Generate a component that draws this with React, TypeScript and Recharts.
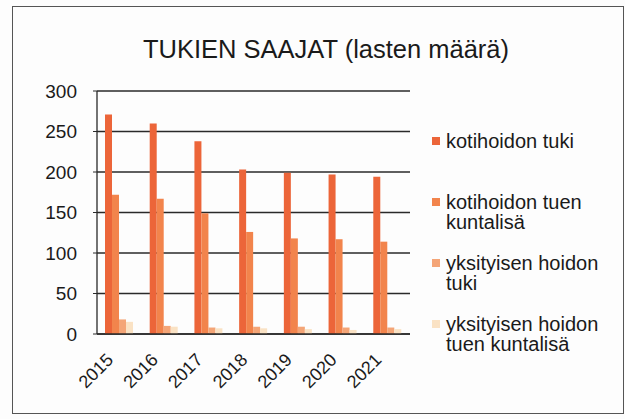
import React from 'react';
import { BarChart, Bar, XAxis, YAxis, CartesianGrid } from 'recharts';

const years = ['2015', '2016', '2017', '2018', '2019', '2020', '2021'];
const kotihoidonTuki = [271, 260, 238, 203, 199, 197, 194];
const kotihoidonTuenKuntalisa = [172, 167, 149, 126, 118, 117, 114];
const yksityisenHoidonTuki = [18, 10, 8, 9, 9, 8, 8];
const yksityisenHoidonTuenKuntalisa = [15, 9, 7, 7, 6, 5, 6];
const yTicks = [0, 50, 100, 150, 200, 250, 300];
const seriesNames = [
  'kotihoidon tuki',
  'kotihoidon tuen kuntalisä',
  'yksityisen hoidon tuki',
  'yksityisen hoidon tuen kuntalisä',
];
const seriesKeys = ['s0', 's1', 's2', 's3'];
const seriesColors = ['#EC6539', '#F2844c', '#F4A577', '#FAE2C4'];

const data = years.map((y, i) => ({
  year: y,
  s0: kotihoidonTuki[i],
  s1: kotihoidonTuenKuntalisa[i],
  s2: yksityisenHoidonTuki[i],
  s3: yksityisenHoidonTuenKuntalisa[i],
}));

const FONT = '"Liberation Sans", Arial, sans-serif';

const XTick = (props: any) => {
  const { x, y, payload } = props;
  const px = x - 5;
  const py = y + 27;
  return (
    <text
      x={px}
      y={py}
      transform={`rotate(-45, ${px}, ${py})`}
      textAnchor="end"
      fontSize={18}
      fontFamily={FONT}
      fill="#1a1a1a"
    >
      {payload.value}
    </text>
  );
};

const ChartLegend = () => (
  <div
    style={{
      position: 'absolute',
      left: 432,
      top: 131,
      fontFamily: FONT,
      fontSize: 20,
      color: '#1a1a1a',
      lineHeight: '20px',
    }}
  >
    {seriesNames.map((name, i) => (
      <div key={i} style={{ height: 61, display: 'flex', alignItems: 'flex-start' }}>
        <div
          style={{
            width: 8,
            height: 8,
            background: seriesColors[i],
            marginTop: 6,
            marginRight: 6,
            flex: '0 0 auto',
          }}
        />
        <div style={{ width: 160 }}>{name}</div>
      </div>
    ))}
  </div>
);

export default function App() {
  return (
    <div style={{ position: 'absolute', left: 0, top: 0, width: 625, height: 419, background: '#fdfdfd' }}>
      <div
        style={{
          position: 'absolute',
          left: 12,
          top: 6,
          width: 610,
          height: 406,
          border: '1px solid #555',
        }}
      />
      <div
        style={{
          position: 'absolute',
          left: 0,
          top: 35,
          width: 652,
          textAlign: 'center',
          fontFamily: FONT,
          fontSize: 25.5,
          color: '#1a1a1a',
          whiteSpace: 'nowrap',
        }}
      >
        TUKIEN SAAJAT (lasten määrä)
      </div>
      <div style={{ position: 'absolute', left: 0, top: 0 }}>
        <BarChart
          width={625}
          height={419}
          data={data}
          margin={{ top: 91, right: 215, bottom: 0, left: 0 }}
          barGap={0}
          barSize={7}
        >
          <CartesianGrid vertical={false} stroke="#2a2a2a" strokeWidth={1.3} />
          <XAxis
            dataKey="year"
            height={85}
            tickSize={0}
            tickMargin={0}
            tickLine={false}
            axisLine={{ stroke: '#2a2a2a', strokeWidth: 1.3 }}
            tick={<XTick />}
            interval={0}
          />
          <YAxis
            width={97}
            domain={[0, 300]}
            ticks={yTicks}
            tickSize={4}
            tickMargin={16}
            tickLine={{ stroke: '#2a2a2a' }}
            axisLine={{ stroke: '#2a2a2a', strokeWidth: 1.3 }}
            tick={{ fontSize: 19, fontFamily: FONT, fill: '#1a1a1a' }}
          />
          {seriesKeys.map((k, i) => (
            <Bar key={k} dataKey={k} name={seriesNames[i]} fill={seriesColors[i]} isAnimationActive={false} />
          ))}
        </BarChart>
      </div>
      <ChartLegend />
    </div>
  );
}
